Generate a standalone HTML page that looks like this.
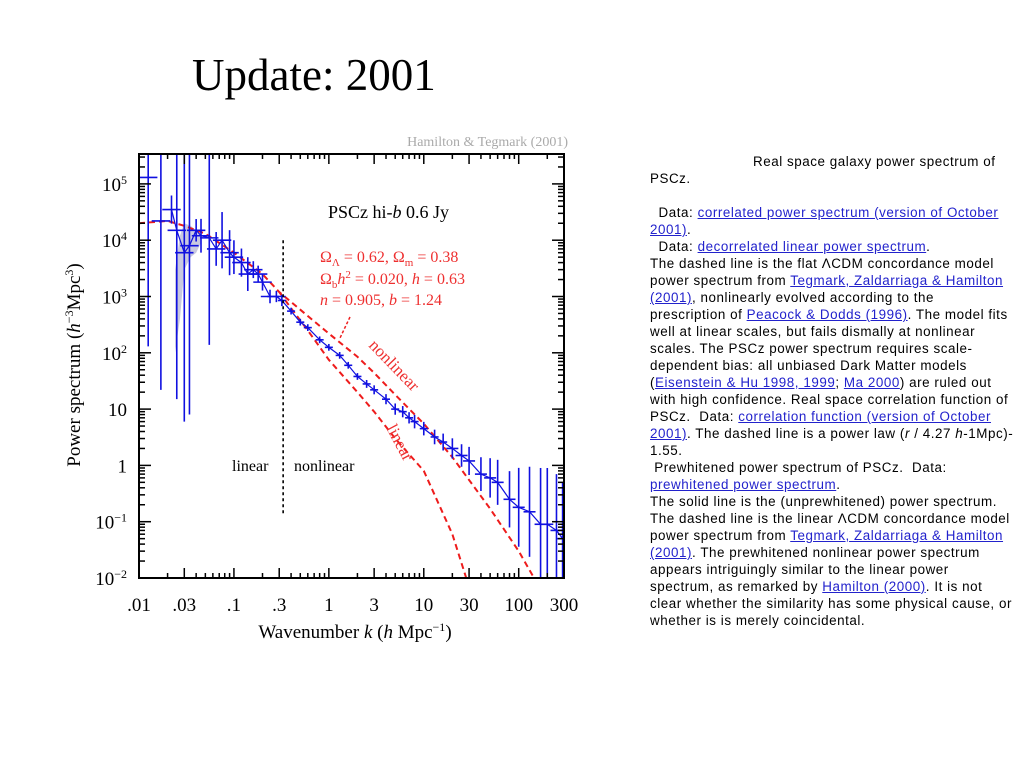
<!DOCTYPE html>
<html><head><meta charset="utf-8">
<style>
body{margin:0;width:1024px;height:768px;background:#fff;overflow:hidden;position:relative;font-family:"Liberation Sans",sans-serif}
#title{position:absolute;left:192px;top:49px;font:45px "Liberation Serif",serif;color:#000;margin:0;font-weight:normal}
#desc{position:absolute;left:650px;top:153px;font-size:13.4px;letter-spacing:0.55px;line-height:17px;color:#000;white-space:nowrap}
#desc a{color:#2222cc;text-decoration:underline}
svg{position:absolute;left:0;top:0}
</style></head><body>
<h1 id="title">Update: 2001</h1>
<svg id="chart" width="620" height="660"></svg>
<div id="desc"><span style="padding-left:103px">Real space galaxy power spectrum of</span><br>PSCz.<br><br>&nbsp; Data: <a href="#">correlated power spectrum (version of October<br>2001)</a>.<br>&nbsp; Data: <a href="#">decorrelated linear power spectrum</a>.<br>The dashed line is the flat &Lambda;CDM concordance model<br>power spectrum from <a href="#">Tegmark, Zaldarriaga &amp; Hamilton<br>(2001)</a>, nonlinearly evolved according to the<br>prescription of <a href="#">Peacock &amp; Dodds (1996)</a>. The model fits<br>well at linear scales, but fails dismally at nonlinear<br>scales. The PSCz power spectrum requires scale-<br>dependent bias: all unbiased Dark Matter models<br>(<a href="#">Eisenstein &amp; Hu 1998, 1999</a>; <a href="#">Ma 2000</a>) are ruled out<br>with high confidence. Real space correlation function of<br>PSCz.&nbsp; Data: <a href="#">correlation function (version of October<br>2001)</a>. The dashed line is a power law (<i>r</i> / 4.27 <i>h</i>-1Mpc)-<br>1.55.<br>&nbsp;Prewhitened power spectrum of PSCz.&nbsp; Data:<br><a href="#">prewhitened power spectrum</a>.<br>The solid line is the (unprewhitened) power spectrum.<br>The dashed line is the linear &Lambda;CDM concordance model<br>power spectrum from <a href="#">Tegmark, Zaldarriaga &amp; Hamilton<br>(2001)</a>. The prewhitened nonlinear power spectrum<br>appears intriguingly similar to the linear power<br>spectrum, as remarked by <a href="#">Hamilton (2000)</a>. It is not<br>clear whether the similarity has some physical cause, or<br>whether is is merely coincidental.</div>
<script>
const dataK=[0.0125,0.017,0.022,0.025,0.03,0.034,0.04,0.045,0.055,0.065,0.075,0.09,0.1,0.12,0.14,0.16,0.18,0.2,0.24,0.28,0.32,0.4,0.5,0.6,0.8,1.0,1.3,1.6,2,2.5,3,4,5,6,7,8,10,13,16,20,25,30,40,50,60,80,100,130,170,200,250,290];
const dataP=[1.3e5,2.2e4,3.5e4,1.5e4,6000,8000,1.5e4,1.2e4,1.1e4,7000,1e4,6000,5000,4000,2500,3000,2500,1800,1000,1000,850,550,350,280,170,125,90,60,38,28,22,15,10,9,7,6,4.5,3.2,2.6,2,1.5,1.2,0.7,0.6,0.5,0.25,0.18,0.15,0.09,0.09,0.07,0.05];
const dataErrDex=[3,3,0.25,3,3,3,0.2,0.3,1.9,0.3,0.5,0.4,0.3,0.25,0.3,0.15,0.15,0.15,0.12,0.1,0.1,0.06,0.06,0.06,0.06,0.06,0.06,0.06,0.06,0.07,0.08,0.09,0.1,0.1,0.1,0.12,0.12,0.13,0.15,0.18,0.2,0.25,0.3,0.35,0.4,0.5,0.7,0.8,1,1,1,1];
const nonlinK=[0.01,0.02,0.03,0.05,0.1,0.2,0.3,0.4,0.6,1,2,3,5,10,20,50,100,145];
const nonlinP=[2e4,2.2e4,1.8e4,1.3e4,6000,2500,1200,800,450,220,85,44,18,5.5,1.4,0.17,0.03,0.01];
const linK=[0.3,0.4,0.6,1,2,3,5,10,20,28];
const linP=[1200,620,250,75,20,9,3,0.8,0.06,0.01];
const bandK=[0.024,0.027,0.03,0.035,0.04,0.045,0.045,0.04,0.035,0.03,0.027,0.024];
const bandP=[3000,1.2e4,2e4,1.8e4,1.5e4,1.3e4,9000,6000,5000,3000,400,100];
const xTickVals=[0.01,0.03,0.1,0.3,1,3,10,30,100,300];
const xTickLabels=[".01",".03",".1",".3","1","3","10","30","100","300"];
const yTickVals=[1e-2,1e-1,1,10,100,1e3,1e4,1e5];
const yTickLabels=["10<tspan dy='-7' font-size='12'>−2</tspan>","10<tspan dy='-7' font-size='12'>−1</tspan>","1","10","10<tspan dy='-7' font-size='12'>2</tspan>","10<tspan dy='-7' font-size='12'>3</tspan>","10<tspan dy='-7' font-size='12'>4</tspan>","10<tspan dy='-7' font-size='12'>5</tspan>"];

const L=139,R=564,T=154,B=578;
const X=k=>L+(Math.log10(k)+2)*(R-L)/Math.log10(30000);
const Y=p=>B-(Math.log10(p)+2)*56.3;
const svg=document.getElementById('chart');
const NS='http://www.w3.org/2000/svg';
function mk(tag,attrs,parent){const e=document.createElementNS(NS,tag);for(const a in attrs)e.setAttribute(a,attrs[a]);(parent||svg).appendChild(e);return e;}
const clip=mk('clipPath',{id:'pc'});mk('rect',{x:L,y:T,width:R-L,height:B-T},clip);
const g=mk('g',{'clip-path':'url(#pc)'});
let bp=mk('polygon',{points:bandK.map((k,i)=>X(k)+','+Y(bandP[i])).join(' '),fill:'#c8c8e0'},g);


function curve(ks,ps,name){const p=mk('polyline',{points:ks.map((k,i)=>X(k)+','+Y(ps[i])).join(' '),fill:'none',stroke:'#ee1c1c','stroke-width':2,'stroke-dasharray':'6,4'},g);

}
curve(nonlinK,nonlinP,'nonlinear-model-curve');
curve(linK,linP,'linear-model-curve');
const dl=mk('polyline',{points:dataK.slice(2).map((k,i)=>X(k)+','+Y(dataP[i+2])).join(' '),fill:'none',stroke:'#1010e0','stroke-width':1.2},g);


dataK.forEach((k,i)=>{const x=X(k),y=Y(dataP[i]);const e=dataErrDex[i];
const gp=mk('g',{stroke:'#1010e0','stroke-width':1.6},g);


mk('line',{x1:x,x2:x,y1:y-e*56.3,y2:y+e*56.3},gp);
const hw=k<0.3?Math.min(12,(X(k*1.25)-X(k/1.25))/2):(k<20?4:6);
mk('line',{x1:x-hw,x2:x+hw,y1:y,y2:y},gp);});
const vl=mk('line',{x1:X(0.33),x2:X(0.33),y1:Y(1e4),y2:Y(0.13),stroke:'#000','stroke-width':1.6,'stroke-dasharray':'3,3'});


const fr=mk('rect',{x:L,y:T,width:R-L,height:B-T,fill:'none',stroke:'#000','stroke-width':2});


const tg=mk('g',{stroke:'#000','stroke-width':1.5});
for(let d=-2;d<=2;d++)for(let m=1;m<10;m++){const k=m*Math.pow(10,d);if(k>300.01)continue;const x=X(k);const len=(m==1||m==3)?10:5;
mk('line',{x1:x,x2:x,y1:B,y2:B-len},tg);mk('line',{x1:x,x2:x,y1:T,y2:T+len},tg);}
for(let d=-2;d<=5;d++)for(let m=1;m<10;m++){const p=m*Math.pow(10,d);const y=Y(p);if(y<T)continue;const len=m==1?12:6;
mk('line',{x1:L,x2:L+len,y1:y,y2:y},tg);mk('line',{x1:R,x2:R-len,y1:y,y2:y},tg);}
xTickVals.forEach((v,i)=>{const t=mk('text',{x:X(v),y:611,'text-anchor':'middle','font-family':'Liberation Serif,serif','font-size':19});t.textContent=xTickLabels[i];

});
yTickVals.forEach((v,i)=>{const t=mk('text',{x:127,y:Y(v)+7,'text-anchor':'end','font-family':'Liberation Serif,serif','font-size':19});t.innerHTML=yTickLabels[i];

});
</script>
<svg width="620" height="660" style="pointer-events:none" font-family="Liberation Serif,serif">
<text x="568" y="146" text-anchor="end" font-size="14" fill="#aaa">Hamilton &amp; Tegmark (2001)</text>
<text x="355" y="638" text-anchor="middle" font-size="19">Wavenumber <tspan font-style="italic">k</tspan>  (<tspan font-style="italic">h</tspan> Mpc<tspan dy="-7" font-size="12">−1</tspan><tspan dy="7">)</tspan></text>
<text transform="translate(80,365) rotate(-90)" text-anchor="middle" font-size="19">Power spectrum  (<tspan font-style="italic">h</tspan><tspan dy="-7" font-size="12">−3</tspan><tspan dy="7">Mpc</tspan><tspan dy="-7" font-size="12">3</tspan><tspan dy="7">)</tspan></text>
<text x="328" y="218" font-size="18">PSCz hi-<tspan font-style="italic">b</tspan> 0.6 Jy</text>
<g fill="#ee3030" font-size="16">
<text x="320" y="262">Ω<tspan dy="4" font-size="11">Λ</tspan><tspan dy="-4"> = 0.62,  Ω</tspan><tspan dy="4" font-size="11">m</tspan><tspan dy="-4"> = 0.38</tspan></text>
<text x="320" y="284">Ω<tspan dy="4" font-size="11">b</tspan><tspan dy="-4" font-style="italic">h</tspan><tspan dy="-6" font-size="11">2</tspan><tspan dy="6"> = 0.020,  </tspan><tspan font-style="italic">h</tspan> = 0.63</text>
<text x="320" y="305"><tspan font-style="italic">n</tspan> = 0.905,  <tspan font-style="italic">b</tspan> = 1.24</text>
</g>
<line x1="350" y1="317" x2="340" y2="338" stroke="#ee2020" stroke-width="1.5" stroke-dasharray="3,2"/>
<text transform="translate(368,346) rotate(46)" font-size="17" fill="#ee3030">nonlinear</text>
<text transform="translate(386,428) rotate(62)" font-size="17" fill="#ee3030">linear</text>
<text x="232" y="471" font-size="16">linear</text>
<text x="294" y="471" font-size="16">nonlinear</text>
</svg>
</body></html>
